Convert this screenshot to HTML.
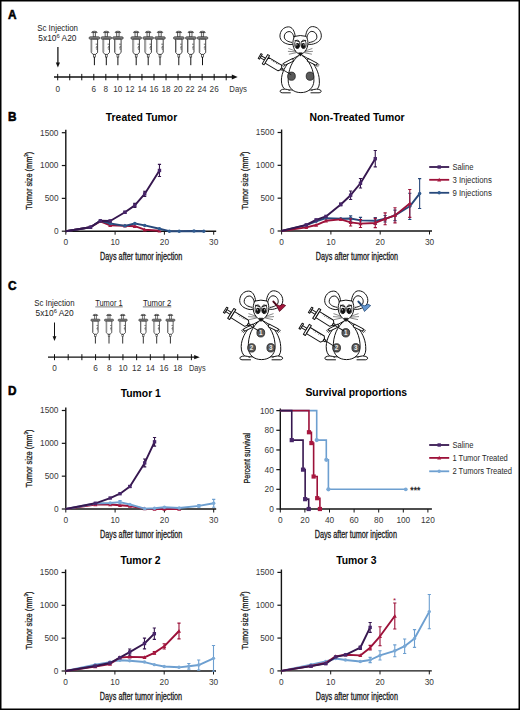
<!DOCTYPE html><html><head><meta charset="utf-8"><style>html,body{margin:0;padding:0;background:#fff;}svg{display:block;}text{font-family:"Liberation Sans", sans-serif;}</style></head><body>
<svg width="520" height="710" viewBox="0 0 520 710">
<rect x="0" y="0" width="520" height="710" fill="#fff"/>
<text x="7.9" y="19.3" font-size="12.5" text-anchor="start" font-weight="bold" fill="#000" textLength="8.5" lengthAdjust="spacingAndGlyphs" stroke="#000" stroke-width="0.55">A</text>
<text x="8" y="121.1" font-size="12.5" text-anchor="start" font-weight="bold" fill="#000" textLength="8.5" lengthAdjust="spacingAndGlyphs" stroke="#000" stroke-width="0.55">B</text>
<text x="7.9" y="290.2" font-size="12.5" text-anchor="start" font-weight="bold" fill="#000" textLength="8.5" lengthAdjust="spacingAndGlyphs" stroke="#000" stroke-width="0.55">C</text>
<text x="7.9" y="395.1" font-size="12.5" text-anchor="start" font-weight="bold" fill="#000" textLength="8.5" lengthAdjust="spacingAndGlyphs" stroke="#000" stroke-width="0.55">D</text>

<text x="57.6" y="31.4" font-size="8.7" text-anchor="middle" font-weight="normal" fill="#1a1a1a" textLength="40.7" lengthAdjust="spacingAndGlyphs">Sc Injection</text>
<text x="57.4" y="41.1" font-size="8.4" text-anchor="middle" fill="#1a1a1a">5x10<tspan font-size="5.8" dy="-3.6">6</tspan><tspan dy="3.6"> A20</tspan></text>
<path d="M57.9 47V65" stroke="#111" stroke-width="1.25"/><path d="M55.8 62.5L57.9 67.5L60 62.5Z" fill="#111"/>
<path d="M54 77H233" stroke="#111" stroke-width="1.3"/><path d="M231.8 74.6L237.7 77L231.8 79.4Z" fill="#111"/>
<path d="M57.7 73.9V80.3" stroke="#111" stroke-width="1"/>
<text x="57.7" y="91.5" font-size="8.2" text-anchor="middle" font-weight="normal" fill="#333">0</text>
<path d="M69.74 73.9V80.3" stroke="#111" stroke-width="1"/>
<path d="M81.77 73.9V80.3" stroke="#111" stroke-width="1"/>
<path d="M93.81 73.9V80.3" stroke="#111" stroke-width="1"/>
<text x="93.81" y="91.5" font-size="8.2" text-anchor="middle" font-weight="normal" fill="#333">6</text>
<path d="M105.84 73.9V80.3" stroke="#111" stroke-width="1"/>
<text x="105.84" y="91.5" font-size="8.2" text-anchor="middle" font-weight="normal" fill="#333">8</text>
<path d="M117.88 73.9V80.3" stroke="#111" stroke-width="1"/>
<text x="117.88" y="91.5" font-size="8.2" text-anchor="middle" font-weight="normal" fill="#333">10</text>
<path d="M129.92 73.9V80.3" stroke="#111" stroke-width="1"/>
<text x="129.92" y="91.5" font-size="8.2" text-anchor="middle" font-weight="normal" fill="#333">12</text>
<path d="M141.95 73.9V80.3" stroke="#111" stroke-width="1"/>
<text x="141.95" y="91.5" font-size="8.2" text-anchor="middle" font-weight="normal" fill="#333">14</text>
<path d="M153.99 73.9V80.3" stroke="#111" stroke-width="1"/>
<text x="153.99" y="91.5" font-size="8.2" text-anchor="middle" font-weight="normal" fill="#333">16</text>
<path d="M166.02 73.9V80.3" stroke="#111" stroke-width="1"/>
<text x="166.02" y="91.5" font-size="8.2" text-anchor="middle" font-weight="normal" fill="#333">18</text>
<path d="M178.06 73.9V80.3" stroke="#111" stroke-width="1"/>
<text x="178.06" y="91.5" font-size="8.2" text-anchor="middle" font-weight="normal" fill="#333">20</text>
<path d="M190.1 73.9V80.3" stroke="#111" stroke-width="1"/>
<text x="190.1" y="91.5" font-size="8.2" text-anchor="middle" font-weight="normal" fill="#333">22</text>
<path d="M202.13 73.9V80.3" stroke="#111" stroke-width="1"/>
<text x="202.13" y="91.5" font-size="8.2" text-anchor="middle" font-weight="normal" fill="#333">24</text>
<path d="M214.17 73.9V80.3" stroke="#111" stroke-width="1"/>
<text x="214.17" y="91.5" font-size="8.2" text-anchor="middle" font-weight="normal" fill="#333">26</text>
<path d="M226.2 73.9V80.3" stroke="#111" stroke-width="1"/>
<text x="229.3" y="91.5" font-size="8.2" text-anchor="start" font-weight="normal" fill="#333" textLength="17.7" lengthAdjust="spacingAndGlyphs">Days</text>
<g transform="translate(94.4 31.2)"><path d="M-2.8 1.4Q-2.8 0 0 0Q2.8 0 2.8 1.4Z" fill="#999" stroke="#333" stroke-width="0.7"/><rect x="-1.2" y="1.4" width="2.4" height="4.3" fill="#e8e8e8" stroke="#333" stroke-width="0.7"/><path d="M-5.2 6.4Q-5.2 5.6 -4.2 5.6H4.2Q5.2 5.6 5.2 6.4V7.2Q5.2 8 4.2 8H-4.2Q-5.2 8 -5.2 7.2Z" fill="#888" stroke="#333" stroke-width="0.7"/><path d="M-3.2 8V21.3L-1.2 23.2H1.2L3.2 21.3V8Z" fill="#fff" stroke="#222" stroke-width="0.85"/><path d="M-2.3 8.5V21" stroke="#aaa" stroke-width="0.7"/><path d="M1.3 13H2.9M1.8 15.2H2.9M1.3 16.6H2.9M1.8 18H2.9" stroke="#333" stroke-width="0.75"/><rect x="-0.9" y="23.2" width="1.8" height="2.6" fill="#fff" stroke="#333" stroke-width="0.7"/><path d="M0 25.8V34" stroke="#111" stroke-width="1"/></g>
<g transform="translate(106.3 31.2)"><path d="M-2.8 1.4Q-2.8 0 0 0Q2.8 0 2.8 1.4Z" fill="#999" stroke="#333" stroke-width="0.7"/><rect x="-1.2" y="1.4" width="2.4" height="4.3" fill="#e8e8e8" stroke="#333" stroke-width="0.7"/><path d="M-5.2 6.4Q-5.2 5.6 -4.2 5.6H4.2Q5.2 5.6 5.2 6.4V7.2Q5.2 8 4.2 8H-4.2Q-5.2 8 -5.2 7.2Z" fill="#888" stroke="#333" stroke-width="0.7"/><path d="M-3.2 8V21.3L-1.2 23.2H1.2L3.2 21.3V8Z" fill="#fff" stroke="#222" stroke-width="0.85"/><path d="M-2.3 8.5V21" stroke="#aaa" stroke-width="0.7"/><path d="M1.3 13H2.9M1.8 15.2H2.9M1.3 16.6H2.9M1.8 18H2.9" stroke="#333" stroke-width="0.75"/><rect x="-0.9" y="23.2" width="1.8" height="2.6" fill="#fff" stroke="#333" stroke-width="0.7"/><path d="M0 25.8V34" stroke="#111" stroke-width="1"/></g>
<g transform="translate(117.9 31.2)"><path d="M-2.8 1.4Q-2.8 0 0 0Q2.8 0 2.8 1.4Z" fill="#999" stroke="#333" stroke-width="0.7"/><rect x="-1.2" y="1.4" width="2.4" height="4.3" fill="#e8e8e8" stroke="#333" stroke-width="0.7"/><path d="M-5.2 6.4Q-5.2 5.6 -4.2 5.6H4.2Q5.2 5.6 5.2 6.4V7.2Q5.2 8 4.2 8H-4.2Q-5.2 8 -5.2 7.2Z" fill="#888" stroke="#333" stroke-width="0.7"/><path d="M-3.2 8V21.3L-1.2 23.2H1.2L3.2 21.3V8Z" fill="#fff" stroke="#222" stroke-width="0.85"/><path d="M-2.3 8.5V21" stroke="#aaa" stroke-width="0.7"/><path d="M1.3 13H2.9M1.8 15.2H2.9M1.3 16.6H2.9M1.8 18H2.9" stroke="#333" stroke-width="0.75"/><rect x="-0.9" y="23.2" width="1.8" height="2.6" fill="#fff" stroke="#333" stroke-width="0.7"/><path d="M0 25.8V34" stroke="#111" stroke-width="1"/></g>
<g transform="translate(136.2 31.2)"><path d="M-2.8 1.4Q-2.8 0 0 0Q2.8 0 2.8 1.4Z" fill="#999" stroke="#333" stroke-width="0.7"/><rect x="-1.2" y="1.4" width="2.4" height="4.3" fill="#e8e8e8" stroke="#333" stroke-width="0.7"/><path d="M-5.2 6.4Q-5.2 5.6 -4.2 5.6H4.2Q5.2 5.6 5.2 6.4V7.2Q5.2 8 4.2 8H-4.2Q-5.2 8 -5.2 7.2Z" fill="#888" stroke="#333" stroke-width="0.7"/><path d="M-3.2 8V21.3L-1.2 23.2H1.2L3.2 21.3V8Z" fill="#fff" stroke="#222" stroke-width="0.85"/><path d="M-2.3 8.5V21" stroke="#aaa" stroke-width="0.7"/><path d="M1.3 13H2.9M1.8 15.2H2.9M1.3 16.6H2.9M1.8 18H2.9" stroke="#333" stroke-width="0.75"/><rect x="-0.9" y="23.2" width="1.8" height="2.6" fill="#fff" stroke="#333" stroke-width="0.7"/><path d="M0 25.8V34" stroke="#111" stroke-width="1"/></g>
<g transform="translate(148.2 31.2)"><path d="M-2.8 1.4Q-2.8 0 0 0Q2.8 0 2.8 1.4Z" fill="#999" stroke="#333" stroke-width="0.7"/><rect x="-1.2" y="1.4" width="2.4" height="4.3" fill="#e8e8e8" stroke="#333" stroke-width="0.7"/><path d="M-5.2 6.4Q-5.2 5.6 -4.2 5.6H4.2Q5.2 5.6 5.2 6.4V7.2Q5.2 8 4.2 8H-4.2Q-5.2 8 -5.2 7.2Z" fill="#888" stroke="#333" stroke-width="0.7"/><path d="M-3.2 8V21.3L-1.2 23.2H1.2L3.2 21.3V8Z" fill="#fff" stroke="#222" stroke-width="0.85"/><path d="M-2.3 8.5V21" stroke="#aaa" stroke-width="0.7"/><path d="M1.3 13H2.9M1.8 15.2H2.9M1.3 16.6H2.9M1.8 18H2.9" stroke="#333" stroke-width="0.75"/><rect x="-0.9" y="23.2" width="1.8" height="2.6" fill="#fff" stroke="#333" stroke-width="0.7"/><path d="M0 25.8V34" stroke="#111" stroke-width="1"/></g>
<g transform="translate(160 31.2)"><path d="M-2.8 1.4Q-2.8 0 0 0Q2.8 0 2.8 1.4Z" fill="#999" stroke="#333" stroke-width="0.7"/><rect x="-1.2" y="1.4" width="2.4" height="4.3" fill="#e8e8e8" stroke="#333" stroke-width="0.7"/><path d="M-5.2 6.4Q-5.2 5.6 -4.2 5.6H4.2Q5.2 5.6 5.2 6.4V7.2Q5.2 8 4.2 8H-4.2Q-5.2 8 -5.2 7.2Z" fill="#888" stroke="#333" stroke-width="0.7"/><path d="M-3.2 8V21.3L-1.2 23.2H1.2L3.2 21.3V8Z" fill="#fff" stroke="#222" stroke-width="0.85"/><path d="M-2.3 8.5V21" stroke="#aaa" stroke-width="0.7"/><path d="M1.3 13H2.9M1.8 15.2H2.9M1.3 16.6H2.9M1.8 18H2.9" stroke="#333" stroke-width="0.75"/><rect x="-0.9" y="23.2" width="1.8" height="2.6" fill="#fff" stroke="#333" stroke-width="0.7"/><path d="M0 25.8V34" stroke="#111" stroke-width="1"/></g>
<g transform="translate(178.8 31.2)"><path d="M-2.8 1.4Q-2.8 0 0 0Q2.8 0 2.8 1.4Z" fill="#999" stroke="#333" stroke-width="0.7"/><rect x="-1.2" y="1.4" width="2.4" height="4.3" fill="#e8e8e8" stroke="#333" stroke-width="0.7"/><path d="M-5.2 6.4Q-5.2 5.6 -4.2 5.6H4.2Q5.2 5.6 5.2 6.4V7.2Q5.2 8 4.2 8H-4.2Q-5.2 8 -5.2 7.2Z" fill="#888" stroke="#333" stroke-width="0.7"/><path d="M-3.2 8V21.3L-1.2 23.2H1.2L3.2 21.3V8Z" fill="#fff" stroke="#222" stroke-width="0.85"/><path d="M-2.3 8.5V21" stroke="#aaa" stroke-width="0.7"/><path d="M1.3 13H2.9M1.8 15.2H2.9M1.3 16.6H2.9M1.8 18H2.9" stroke="#333" stroke-width="0.75"/><rect x="-0.9" y="23.2" width="1.8" height="2.6" fill="#fff" stroke="#333" stroke-width="0.7"/><path d="M0 25.8V34" stroke="#111" stroke-width="1"/></g>
<g transform="translate(190.8 31.2)"><path d="M-2.8 1.4Q-2.8 0 0 0Q2.8 0 2.8 1.4Z" fill="#999" stroke="#333" stroke-width="0.7"/><rect x="-1.2" y="1.4" width="2.4" height="4.3" fill="#e8e8e8" stroke="#333" stroke-width="0.7"/><path d="M-5.2 6.4Q-5.2 5.6 -4.2 5.6H4.2Q5.2 5.6 5.2 6.4V7.2Q5.2 8 4.2 8H-4.2Q-5.2 8 -5.2 7.2Z" fill="#888" stroke="#333" stroke-width="0.7"/><path d="M-3.2 8V21.3L-1.2 23.2H1.2L3.2 21.3V8Z" fill="#fff" stroke="#222" stroke-width="0.85"/><path d="M-2.3 8.5V21" stroke="#aaa" stroke-width="0.7"/><path d="M1.3 13H2.9M1.8 15.2H2.9M1.3 16.6H2.9M1.8 18H2.9" stroke="#333" stroke-width="0.75"/><rect x="-0.9" y="23.2" width="1.8" height="2.6" fill="#fff" stroke="#333" stroke-width="0.7"/><path d="M0 25.8V34" stroke="#111" stroke-width="1"/></g>
<g transform="translate(202.5 31.2)"><path d="M-2.8 1.4Q-2.8 0 0 0Q2.8 0 2.8 1.4Z" fill="#999" stroke="#333" stroke-width="0.7"/><rect x="-1.2" y="1.4" width="2.4" height="4.3" fill="#e8e8e8" stroke="#333" stroke-width="0.7"/><path d="M-5.2 6.4Q-5.2 5.6 -4.2 5.6H4.2Q5.2 5.6 5.2 6.4V7.2Q5.2 8 4.2 8H-4.2Q-5.2 8 -5.2 7.2Z" fill="#888" stroke="#333" stroke-width="0.7"/><path d="M-3.2 8V21.3L-1.2 23.2H1.2L3.2 21.3V8Z" fill="#fff" stroke="#222" stroke-width="0.85"/><path d="M-2.3 8.5V21" stroke="#aaa" stroke-width="0.7"/><path d="M1.3 13H2.9M1.8 15.2H2.9M1.3 16.6H2.9M1.8 18H2.9" stroke="#333" stroke-width="0.75"/><rect x="-0.9" y="23.2" width="1.8" height="2.6" fill="#fff" stroke="#333" stroke-width="0.7"/><path d="M0 25.8V34" stroke="#111" stroke-width="1"/></g>
<text x="54.4" y="306.4" font-size="8.7" text-anchor="middle" font-weight="normal" fill="#1a1a1a" textLength="40.3" lengthAdjust="spacingAndGlyphs">Sc Injection</text>
<text x="54.6" y="316.1" font-size="8.4" text-anchor="middle" fill="#1a1a1a">5x10<tspan font-size="5.8" dy="-3.6">6</tspan><tspan dy="3.6"> A20</tspan></text>
<path d="M54.5 322.5V338.5" stroke="#111" stroke-width="1"/><path d="M52.6 336.3L54.5 341L56.4 336.3Z" fill="#111"/>
<path d="M48 357.2H196" stroke="#111" stroke-width="1.3"/><path d="M194.2 355.1L199.8 357.2L194.2 359.3Z" fill="#111"/>
<path d="M54.5 354.2V360.2" stroke="#111" stroke-width="1"/>
<text x="54.5" y="371.2" font-size="8.2" text-anchor="middle" font-weight="normal" fill="#333">0</text>
<path d="M68.19 354.2V360.2" stroke="#111" stroke-width="1"/>
<path d="M81.88 354.2V360.2" stroke="#111" stroke-width="1"/>
<path d="M95.57 354.2V360.2" stroke="#111" stroke-width="1"/>
<text x="95.57" y="371.2" font-size="8.2" text-anchor="middle" font-weight="normal" fill="#333">6</text>
<path d="M109.26 354.2V360.2" stroke="#111" stroke-width="1"/>
<text x="109.26" y="371.2" font-size="8.2" text-anchor="middle" font-weight="normal" fill="#333">8</text>
<path d="M122.95 354.2V360.2" stroke="#111" stroke-width="1"/>
<text x="122.95" y="371.2" font-size="8.2" text-anchor="middle" font-weight="normal" fill="#333">10</text>
<path d="M136.64 354.2V360.2" stroke="#111" stroke-width="1"/>
<text x="136.64" y="371.2" font-size="8.2" text-anchor="middle" font-weight="normal" fill="#333">12</text>
<path d="M150.33 354.2V360.2" stroke="#111" stroke-width="1"/>
<text x="150.33" y="371.2" font-size="8.2" text-anchor="middle" font-weight="normal" fill="#333">14</text>
<path d="M164.02 354.2V360.2" stroke="#111" stroke-width="1"/>
<text x="164.02" y="371.2" font-size="8.2" text-anchor="middle" font-weight="normal" fill="#333">16</text>
<path d="M177.71 354.2V360.2" stroke="#111" stroke-width="1"/>
<text x="177.71" y="371.2" font-size="8.2" text-anchor="middle" font-weight="normal" fill="#333">18</text>
<path d="M191.4 354.2V360.2" stroke="#111" stroke-width="1"/>
<text x="188.9" y="371" font-size="8.2" text-anchor="start" font-weight="normal" fill="#333" textLength="16.8" lengthAdjust="spacingAndGlyphs">Days</text>
<text x="108.9" y="305.9" font-size="8.2" text-anchor="middle" font-weight="normal" fill="#222" textLength="27.4" lengthAdjust="spacingAndGlyphs">Tumor 1</text>
<text x="157.1" y="305.9" font-size="8.2" text-anchor="middle" font-weight="normal" fill="#222" textLength="28.4" lengthAdjust="spacingAndGlyphs">Tumor 2</text>
<path d="M95.3 306.9H122.8M142.8 306.9H171.3" stroke="#444" stroke-width="0.7"/>
<g transform="translate(95.4 314.3) scale(0.86)"><path d="M-2.8 1.4Q-2.8 0 0 0Q2.8 0 2.8 1.4Z" fill="#999" stroke="#333" stroke-width="0.7"/><rect x="-1.2" y="1.4" width="2.4" height="4.3" fill="#e8e8e8" stroke="#333" stroke-width="0.7"/><path d="M-5.2 6.4Q-5.2 5.6 -4.2 5.6H4.2Q5.2 5.6 5.2 6.4V7.2Q5.2 8 4.2 8H-4.2Q-5.2 8 -5.2 7.2Z" fill="#888" stroke="#333" stroke-width="0.7"/><path d="M-3.2 8V21.3L-1.2 23.2H1.2L3.2 21.3V8Z" fill="#fff" stroke="#222" stroke-width="0.85"/><path d="M-2.3 8.5V21" stroke="#aaa" stroke-width="0.7"/><path d="M1.3 13H2.9M1.8 15.2H2.9M1.3 16.6H2.9M1.8 18H2.9" stroke="#333" stroke-width="0.75"/><rect x="-0.9" y="23.2" width="1.8" height="2.6" fill="#fff" stroke="#333" stroke-width="0.7"/><path d="M0 25.8V34" stroke="#111" stroke-width="1"/></g>
<g transform="translate(109 314.3) scale(0.86)"><path d="M-2.8 1.4Q-2.8 0 0 0Q2.8 0 2.8 1.4Z" fill="#999" stroke="#333" stroke-width="0.7"/><rect x="-1.2" y="1.4" width="2.4" height="4.3" fill="#e8e8e8" stroke="#333" stroke-width="0.7"/><path d="M-5.2 6.4Q-5.2 5.6 -4.2 5.6H4.2Q5.2 5.6 5.2 6.4V7.2Q5.2 8 4.2 8H-4.2Q-5.2 8 -5.2 7.2Z" fill="#888" stroke="#333" stroke-width="0.7"/><path d="M-3.2 8V21.3L-1.2 23.2H1.2L3.2 21.3V8Z" fill="#fff" stroke="#222" stroke-width="0.85"/><path d="M-2.3 8.5V21" stroke="#aaa" stroke-width="0.7"/><path d="M1.3 13H2.9M1.8 15.2H2.9M1.3 16.6H2.9M1.8 18H2.9" stroke="#333" stroke-width="0.75"/><rect x="-0.9" y="23.2" width="1.8" height="2.6" fill="#fff" stroke="#333" stroke-width="0.7"/><path d="M0 25.8V34" stroke="#111" stroke-width="1"/></g>
<g transform="translate(122.7 314.3) scale(0.86)"><path d="M-2.8 1.4Q-2.8 0 0 0Q2.8 0 2.8 1.4Z" fill="#999" stroke="#333" stroke-width="0.7"/><rect x="-1.2" y="1.4" width="2.4" height="4.3" fill="#e8e8e8" stroke="#333" stroke-width="0.7"/><path d="M-5.2 6.4Q-5.2 5.6 -4.2 5.6H4.2Q5.2 5.6 5.2 6.4V7.2Q5.2 8 4.2 8H-4.2Q-5.2 8 -5.2 7.2Z" fill="#888" stroke="#333" stroke-width="0.7"/><path d="M-3.2 8V21.3L-1.2 23.2H1.2L3.2 21.3V8Z" fill="#fff" stroke="#222" stroke-width="0.85"/><path d="M-2.3 8.5V21" stroke="#aaa" stroke-width="0.7"/><path d="M1.3 13H2.9M1.8 15.2H2.9M1.3 16.6H2.9M1.8 18H2.9" stroke="#333" stroke-width="0.75"/><rect x="-0.9" y="23.2" width="1.8" height="2.6" fill="#fff" stroke="#333" stroke-width="0.7"/><path d="M0 25.8V34" stroke="#111" stroke-width="1"/></g>
<g transform="translate(143.3 314.3) scale(0.86)"><path d="M-2.8 1.4Q-2.8 0 0 0Q2.8 0 2.8 1.4Z" fill="#999" stroke="#333" stroke-width="0.7"/><rect x="-1.2" y="1.4" width="2.4" height="4.3" fill="#e8e8e8" stroke="#333" stroke-width="0.7"/><path d="M-5.2 6.4Q-5.2 5.6 -4.2 5.6H4.2Q5.2 5.6 5.2 6.4V7.2Q5.2 8 4.2 8H-4.2Q-5.2 8 -5.2 7.2Z" fill="#888" stroke="#333" stroke-width="0.7"/><path d="M-3.2 8V21.3L-1.2 23.2H1.2L3.2 21.3V8Z" fill="#fff" stroke="#222" stroke-width="0.85"/><path d="M-2.3 8.5V21" stroke="#aaa" stroke-width="0.7"/><path d="M1.3 13H2.9M1.8 15.2H2.9M1.3 16.6H2.9M1.8 18H2.9" stroke="#333" stroke-width="0.75"/><rect x="-0.9" y="23.2" width="1.8" height="2.6" fill="#fff" stroke="#333" stroke-width="0.7"/><path d="M0 25.8V34" stroke="#111" stroke-width="1"/></g>
<g transform="translate(156.7 314.3) scale(0.86)"><path d="M-2.8 1.4Q-2.8 0 0 0Q2.8 0 2.8 1.4Z" fill="#999" stroke="#333" stroke-width="0.7"/><rect x="-1.2" y="1.4" width="2.4" height="4.3" fill="#e8e8e8" stroke="#333" stroke-width="0.7"/><path d="M-5.2 6.4Q-5.2 5.6 -4.2 5.6H4.2Q5.2 5.6 5.2 6.4V7.2Q5.2 8 4.2 8H-4.2Q-5.2 8 -5.2 7.2Z" fill="#888" stroke="#333" stroke-width="0.7"/><path d="M-3.2 8V21.3L-1.2 23.2H1.2L3.2 21.3V8Z" fill="#fff" stroke="#222" stroke-width="0.85"/><path d="M-2.3 8.5V21" stroke="#aaa" stroke-width="0.7"/><path d="M1.3 13H2.9M1.8 15.2H2.9M1.3 16.6H2.9M1.8 18H2.9" stroke="#333" stroke-width="0.75"/><rect x="-0.9" y="23.2" width="1.8" height="2.6" fill="#fff" stroke="#333" stroke-width="0.7"/><path d="M0 25.8V34" stroke="#111" stroke-width="1"/></g>
<g transform="translate(170.4 314.3) scale(0.86)"><path d="M-2.8 1.4Q-2.8 0 0 0Q2.8 0 2.8 1.4Z" fill="#999" stroke="#333" stroke-width="0.7"/><rect x="-1.2" y="1.4" width="2.4" height="4.3" fill="#e8e8e8" stroke="#333" stroke-width="0.7"/><path d="M-5.2 6.4Q-5.2 5.6 -4.2 5.6H4.2Q5.2 5.6 5.2 6.4V7.2Q5.2 8 4.2 8H-4.2Q-5.2 8 -5.2 7.2Z" fill="#888" stroke="#333" stroke-width="0.7"/><path d="M-3.2 8V21.3L-1.2 23.2H1.2L3.2 21.3V8Z" fill="#fff" stroke="#222" stroke-width="0.85"/><path d="M-2.3 8.5V21" stroke="#aaa" stroke-width="0.7"/><path d="M1.3 13H2.9M1.8 15.2H2.9M1.3 16.6H2.9M1.8 18H2.9" stroke="#333" stroke-width="0.75"/><rect x="-0.9" y="23.2" width="1.8" height="2.6" fill="#fff" stroke="#333" stroke-width="0.7"/><path d="M0 25.8V34" stroke="#111" stroke-width="1"/></g>
<g transform="translate(49.84 -252.6) scale(0.96)"><path d="M255.6 301.5C255.2 295 252.2 291.1 248.6 291.1C243.5 291.1 239.7 295.5 239.7 300.6C239.7 305.2 243.6 308.6 250.2 309.6L255 309Z" fill="#fff" stroke="#111" stroke-width="1" stroke-linejoin="round" stroke-linecap="round"/><path d="M254.4 303.2C253.9 298.6 251.8 296 249.2 296C246.2 296 244 298.6 244.2 301.6C244.4 304.6 247.5 306.6 252 307.3" fill="none" stroke="#111" stroke-width="1" stroke-linejoin="round" stroke-linecap="round"/><path d="M266.4 301.5C266.8 295 269.8 290.8 273.6 290.8C278.8 290.8 282.8 295.3 282.8 300.5C282.8 305 279 308.3 272.3 309.4L267 309Z" fill="#fff" stroke="#111" stroke-width="1" stroke-linejoin="round" stroke-linecap="round"/><path d="M267.6 303.2C268.1 298.6 270.4 295.8 273 295.8C276 295.8 278.4 298.6 278.2 301.8C278 304.8 274.8 306.8 270.2 307.4" fill="none" stroke="#111" stroke-width="1" stroke-linejoin="round" stroke-linecap="round"/><path d="M261 320L251.2 325.4C245.6 331 241.3 339 241.2 346.5C241.1 351.5 242.8 354.8 245.5 356.8L277.5 356.8C280.2 354.8 281.2 351.5 280.7 346.5C280.4 339 276.6 331 270.8 325.4Z" fill="#fff" stroke="#111" stroke-width="1" stroke-linejoin="round" stroke-linecap="round"/><path d="M259.6 320.8C252.2 326 248 336 248.3 347.5C248.6 355 253.8 359.6 261.5 359.6C269.2 359.6 274.6 355 275.1 347.5C275.4 336 270.4 326 262.6 320.8" fill="#fff" stroke="#111" stroke-width="1" stroke-linejoin="round" stroke-linecap="round"/><path d="M249.5 357.2C247 355.6 242.5 355.4 240.2 357.3C239.3 358.2 240 359.6 242 359.8L250.5 359.8" fill="#fff" stroke="#111" stroke-width="1" stroke-linejoin="round" stroke-linecap="round"/><path d="M272.8 357.2C275.4 355.6 280 355.4 282.3 357.3C283.2 358.2 282.5 359.6 280.5 359.8L272 359.8" fill="#fff" stroke="#111" stroke-width="1" stroke-linejoin="round" stroke-linecap="round"/><path d="M252.6 324.2L243.4 329L244.6 331.2L253.4 327Z" fill="#fff" stroke="#111" stroke-width="1" stroke-linejoin="round" stroke-linecap="round"/><path d="M243.6 329.2L241.2 330.6M244 330.2L241.8 332M244.8 331L243.2 333" fill="none" stroke="#111" stroke-width="0.7"/><path d="M269.4 324.2L278.6 329L277.4 331.2L268.6 327Z" fill="#fff" stroke="#111" stroke-width="1" stroke-linejoin="round" stroke-linecap="round"/><path d="M278.4 329.2L280.8 330.6M278 330.2L280.2 332M277.2 331L278.8 333" fill="none" stroke="#111" stroke-width="0.7"/><path d="M255 301Q261 299.2 267 301C269.2 304.5 269.6 310 267.2 314.6C265.6 317.6 263.2 319.6 261 319.9C258.8 319.6 256.4 317.6 254.8 314.6C252.4 310 252.8 304.5 255 301Z" fill="#fff" stroke="#111" stroke-width="1" stroke-linejoin="round" stroke-linecap="round"/><ellipse cx="257.7" cy="309.3" rx="2.6" ry="4.3" fill="#fff" stroke="#111" stroke-width="0.9"/><ellipse cx="257.95" cy="310.7" rx="2.1" ry="2.9" fill="#111"/><circle cx="257.3" cy="309.8" r="0.65" fill="#fff"/><path d="M255.39999999999998 305.2L259.4 306.5" stroke="#111" stroke-width="1.05" stroke-linecap="round"/><ellipse cx="264.3" cy="309.3" rx="2.6" ry="4.3" fill="#fff" stroke="#111" stroke-width="0.9"/><ellipse cx="264.05" cy="310.7" rx="2.1" ry="2.9" fill="#111"/><circle cx="264.7" cy="309.8" r="0.65" fill="#fff"/><path d="M266.6 305.2L262.6 306.5" stroke="#111" stroke-width="1.05" stroke-linecap="round"/><path d="M259 318.2H263L261 321.6Z" fill="#111" stroke="#111" stroke-width="0.6" stroke-linejoin="round"/><path d="M256.5 316.4L248.5 313.6M256.5 317.2L248 316.6M256.8 318L249 319.6M265.5 316.4L273.5 313.6M265.5 317.2L274 316.6M265.2 318L273 319.6" stroke="#222" stroke-width="0.55" fill="none"/></g>
<ellipse cx="291.5" cy="76.2" rx="3.8" ry="4.104" fill="#5a5a5a" stroke="#222" stroke-width="0.8"/>
<ellipse cx="310" cy="76.2" rx="3.8" ry="4.104" fill="#5a5a5a" stroke="#222" stroke-width="0.8"/>
<g transform="translate(259.6 56) rotate(30.6) scale(0.92)"><rect x="0" y="-3.1" width="1.6" height="6.2" fill="#fff" stroke="#111" stroke-width="1" stroke-linejoin="round" stroke-linecap="round"/><rect x="1.6" y="-1.2" width="5.2" height="2.4" fill="#fff" stroke="#111" stroke-width="1" stroke-linejoin="round" stroke-linecap="round"/><rect x="6.8" y="-5.8" width="2.3" height="11.6" fill="#fff" stroke="#111" stroke-width="1" stroke-linejoin="round" stroke-linecap="round"/><path d="M9.1 -3.6H25.5L27.2 -1.3V1.3L25.5 3.6H9.1Z" fill="#fff" stroke="#111" stroke-width="1" stroke-linejoin="round" stroke-linecap="round"/><path d="M14 -3.6V-2.3M16 -3.6V-1.8M18 -3.6V-2.3M20 -3.6V-1.8M22 -3.6V-2.3" stroke="#1a1a1a" stroke-width="0.6"/><rect x="27" y="-0.9" width="2.2" height="1.8" fill="#fff" stroke="#111" stroke-width="1" stroke-linejoin="round" stroke-linecap="round"/><path d="M29.2 0H40" stroke="#1a1a1a" stroke-width="0.9"/></g>
<g><path d="M255.6 301.5C255.2 295 252.2 291.1 248.6 291.1C243.5 291.1 239.7 295.5 239.7 300.6C239.7 305.2 243.6 308.6 250.2 309.6L255 309Z" fill="#fff" stroke="#111" stroke-width="1" stroke-linejoin="round" stroke-linecap="round"/><path d="M254.4 303.2C253.9 298.6 251.8 296 249.2 296C246.2 296 244 298.6 244.2 301.6C244.4 304.6 247.5 306.6 252 307.3" fill="none" stroke="#111" stroke-width="1" stroke-linejoin="round" stroke-linecap="round"/><path d="M266.4 301.5C266.8 295 269.8 290.8 273.6 290.8C278.8 290.8 282.8 295.3 282.8 300.5C282.8 305 279 308.3 272.3 309.4L267 309Z" fill="#fff" stroke="#111" stroke-width="1" stroke-linejoin="round" stroke-linecap="round"/><path d="M267.6 303.2C268.1 298.6 270.4 295.8 273 295.8C276 295.8 278.4 298.6 278.2 301.8C278 304.8 274.8 306.8 270.2 307.4" fill="none" stroke="#111" stroke-width="1" stroke-linejoin="round" stroke-linecap="round"/><path d="M261 320L251.2 325.4C245.6 331 241.3 339 241.2 346.5C241.1 351.5 242.8 354.8 245.5 356.8L277.5 356.8C280.2 354.8 281.2 351.5 280.7 346.5C280.4 339 276.6 331 270.8 325.4Z" fill="#fff" stroke="#111" stroke-width="1" stroke-linejoin="round" stroke-linecap="round"/><path d="M259.6 320.8C252.2 326 248 336 248.3 347.5C248.6 355 253.8 359.6 261.5 359.6C269.2 359.6 274.6 355 275.1 347.5C275.4 336 270.4 326 262.6 320.8" fill="#fff" stroke="#111" stroke-width="1" stroke-linejoin="round" stroke-linecap="round"/><path d="M249.5 357.2C247 355.6 242.5 355.4 240.2 357.3C239.3 358.2 240 359.6 242 359.8L250.5 359.8" fill="#fff" stroke="#111" stroke-width="1" stroke-linejoin="round" stroke-linecap="round"/><path d="M272.8 357.2C275.4 355.6 280 355.4 282.3 357.3C283.2 358.2 282.5 359.6 280.5 359.8L272 359.8" fill="#fff" stroke="#111" stroke-width="1" stroke-linejoin="round" stroke-linecap="round"/><path d="M252.6 324.2L243.4 329L244.6 331.2L253.4 327Z" fill="#fff" stroke="#111" stroke-width="1" stroke-linejoin="round" stroke-linecap="round"/><path d="M243.6 329.2L241.2 330.6M244 330.2L241.8 332M244.8 331L243.2 333" fill="none" stroke="#111" stroke-width="0.7"/><path d="M269.4 324.2L278.6 329L277.4 331.2L268.6 327Z" fill="#fff" stroke="#111" stroke-width="1" stroke-linejoin="round" stroke-linecap="round"/><path d="M278.4 329.2L280.8 330.6M278 330.2L280.2 332M277.2 331L278.8 333" fill="none" stroke="#111" stroke-width="0.7"/><path d="M255 301Q261 299.2 267 301C269.2 304.5 269.6 310 267.2 314.6C265.6 317.6 263.2 319.6 261 319.9C258.8 319.6 256.4 317.6 254.8 314.6C252.4 310 252.8 304.5 255 301Z" fill="#fff" stroke="#111" stroke-width="1" stroke-linejoin="round" stroke-linecap="round"/><ellipse cx="257.7" cy="309.3" rx="2.6" ry="4.3" fill="#fff" stroke="#111" stroke-width="0.9"/><ellipse cx="257.95" cy="310.7" rx="2.1" ry="2.9" fill="#111"/><circle cx="257.3" cy="309.8" r="0.65" fill="#fff"/><path d="M255.39999999999998 305.2L259.4 306.5" stroke="#111" stroke-width="1.05" stroke-linecap="round"/><ellipse cx="264.3" cy="309.3" rx="2.6" ry="4.3" fill="#fff" stroke="#111" stroke-width="0.9"/><ellipse cx="264.05" cy="310.7" rx="2.1" ry="2.9" fill="#111"/><circle cx="264.7" cy="309.8" r="0.65" fill="#fff"/><path d="M266.6 305.2L262.6 306.5" stroke="#111" stroke-width="1.05" stroke-linecap="round"/><path d="M259 318.2H263L261 321.6Z" fill="#111" stroke="#111" stroke-width="0.6" stroke-linejoin="round"/><path d="M256.5 316.4L248.5 313.6M256.5 317.2L248 316.6M256.8 318L249 319.6M265.5 316.4L273.5 313.6M265.5 317.2L274 316.6M265.2 318L273 319.6" stroke="#222" stroke-width="0.55" fill="none"/></g>
<g transform="translate(85 0)"><path d="M255.6 301.5C255.2 295 252.2 291.1 248.6 291.1C243.5 291.1 239.7 295.5 239.7 300.6C239.7 305.2 243.6 308.6 250.2 309.6L255 309Z" fill="#fff" stroke="#111" stroke-width="1" stroke-linejoin="round" stroke-linecap="round"/><path d="M254.4 303.2C253.9 298.6 251.8 296 249.2 296C246.2 296 244 298.6 244.2 301.6C244.4 304.6 247.5 306.6 252 307.3" fill="none" stroke="#111" stroke-width="1" stroke-linejoin="round" stroke-linecap="round"/><path d="M266.4 301.5C266.8 295 269.8 290.8 273.6 290.8C278.8 290.8 282.8 295.3 282.8 300.5C282.8 305 279 308.3 272.3 309.4L267 309Z" fill="#fff" stroke="#111" stroke-width="1" stroke-linejoin="round" stroke-linecap="round"/><path d="M267.6 303.2C268.1 298.6 270.4 295.8 273 295.8C276 295.8 278.4 298.6 278.2 301.8C278 304.8 274.8 306.8 270.2 307.4" fill="none" stroke="#111" stroke-width="1" stroke-linejoin="round" stroke-linecap="round"/><path d="M261 320L251.2 325.4C245.6 331 241.3 339 241.2 346.5C241.1 351.5 242.8 354.8 245.5 356.8L277.5 356.8C280.2 354.8 281.2 351.5 280.7 346.5C280.4 339 276.6 331 270.8 325.4Z" fill="#fff" stroke="#111" stroke-width="1" stroke-linejoin="round" stroke-linecap="round"/><path d="M259.6 320.8C252.2 326 248 336 248.3 347.5C248.6 355 253.8 359.6 261.5 359.6C269.2 359.6 274.6 355 275.1 347.5C275.4 336 270.4 326 262.6 320.8" fill="#fff" stroke="#111" stroke-width="1" stroke-linejoin="round" stroke-linecap="round"/><path d="M249.5 357.2C247 355.6 242.5 355.4 240.2 357.3C239.3 358.2 240 359.6 242 359.8L250.5 359.8" fill="#fff" stroke="#111" stroke-width="1" stroke-linejoin="round" stroke-linecap="round"/><path d="M272.8 357.2C275.4 355.6 280 355.4 282.3 357.3C283.2 358.2 282.5 359.6 280.5 359.8L272 359.8" fill="#fff" stroke="#111" stroke-width="1" stroke-linejoin="round" stroke-linecap="round"/><path d="M252.6 324.2L243.4 329L244.6 331.2L253.4 327Z" fill="#fff" stroke="#111" stroke-width="1" stroke-linejoin="round" stroke-linecap="round"/><path d="M243.6 329.2L241.2 330.6M244 330.2L241.8 332M244.8 331L243.2 333" fill="none" stroke="#111" stroke-width="0.7"/><path d="M269.4 324.2L278.6 329L277.4 331.2L268.6 327Z" fill="#fff" stroke="#111" stroke-width="1" stroke-linejoin="round" stroke-linecap="round"/><path d="M278.4 329.2L280.8 330.6M278 330.2L280.2 332M277.2 331L278.8 333" fill="none" stroke="#111" stroke-width="0.7"/><path d="M255 301Q261 299.2 267 301C269.2 304.5 269.6 310 267.2 314.6C265.6 317.6 263.2 319.6 261 319.9C258.8 319.6 256.4 317.6 254.8 314.6C252.4 310 252.8 304.5 255 301Z" fill="#fff" stroke="#111" stroke-width="1" stroke-linejoin="round" stroke-linecap="round"/><ellipse cx="257.7" cy="309.3" rx="2.6" ry="4.3" fill="#fff" stroke="#111" stroke-width="0.9"/><ellipse cx="257.95" cy="310.7" rx="2.1" ry="2.9" fill="#111"/><circle cx="257.3" cy="309.8" r="0.65" fill="#fff"/><path d="M255.39999999999998 305.2L259.4 306.5" stroke="#111" stroke-width="1.05" stroke-linecap="round"/><ellipse cx="264.3" cy="309.3" rx="2.6" ry="4.3" fill="#fff" stroke="#111" stroke-width="0.9"/><ellipse cx="264.05" cy="310.7" rx="2.1" ry="2.9" fill="#111"/><circle cx="264.7" cy="309.8" r="0.65" fill="#fff"/><path d="M266.6 305.2L262.6 306.5" stroke="#111" stroke-width="1.05" stroke-linecap="round"/><path d="M259 318.2H263L261 321.6Z" fill="#111" stroke="#111" stroke-width="0.6" stroke-linejoin="round"/><path d="M256.5 316.4L248.5 313.6M256.5 317.2L248 316.6M256.8 318L249 319.6M265.5 316.4L273.5 313.6M265.5 317.2L274 316.6M265.2 318L273 319.6" stroke="#222" stroke-width="0.55" fill="none"/></g>
<ellipse cx="260.8" cy="332.8" rx="3.9" ry="4.212" fill="#5a5a5a" stroke="#222" stroke-width="0.8"/><text x="260.8" y="335.0" font-size="6.3" text-anchor="middle" fill="#eee" font-weight="bold">1</text>
<ellipse cx="251.6" cy="347.9" rx="3.9" ry="4.212" fill="#5a5a5a" stroke="#222" stroke-width="0.8"/><text x="251.6" y="350.09999999999997" font-size="6.3" text-anchor="middle" fill="#eee" font-weight="bold">2</text>
<ellipse cx="270.8" cy="347.8" rx="3.9" ry="4.212" fill="#5a5a5a" stroke="#222" stroke-width="0.8"/><text x="270.8" y="350.0" font-size="6.3" text-anchor="middle" fill="#eee" font-weight="bold">3</text>
<ellipse cx="345.8" cy="332.8" rx="3.9" ry="4.212" fill="#5a5a5a" stroke="#222" stroke-width="0.8"/><text x="345.8" y="335.0" font-size="6.3" text-anchor="middle" fill="#eee" font-weight="bold">1</text>
<ellipse cx="336.6" cy="347.9" rx="3.9" ry="4.212" fill="#5a5a5a" stroke="#222" stroke-width="0.8"/><text x="336.6" y="350.09999999999997" font-size="6.3" text-anchor="middle" fill="#eee" font-weight="bold">2</text>
<ellipse cx="355.8" cy="347.8" rx="3.9" ry="4.212" fill="#5a5a5a" stroke="#222" stroke-width="0.8"/><text x="355.8" y="350.0" font-size="6.3" text-anchor="middle" fill="#eee" font-weight="bold">3</text>
<g transform="translate(225 309.8) rotate(32)"><rect x="0" y="-3.1" width="1.6" height="6.2" fill="#fff" stroke="#111" stroke-width="1" stroke-linejoin="round" stroke-linecap="round"/><rect x="1.6" y="-1.2" width="5.2" height="2.4" fill="#fff" stroke="#111" stroke-width="1" stroke-linejoin="round" stroke-linecap="round"/><rect x="6.8" y="-5.8" width="2.3" height="11.6" fill="#fff" stroke="#111" stroke-width="1" stroke-linejoin="round" stroke-linecap="round"/><path d="M9.1 -3.6H25.5L27.2 -1.3V1.3L25.5 3.6H9.1Z" fill="#fff" stroke="#111" stroke-width="1" stroke-linejoin="round" stroke-linecap="round"/><path d="M14 -3.6V-2.3M16 -3.6V-1.8M18 -3.6V-2.3M20 -3.6V-1.8M22 -3.6V-2.3" stroke="#1a1a1a" stroke-width="0.6"/><rect x="27" y="-0.9" width="2.2" height="1.8" fill="#fff" stroke="#111" stroke-width="1" stroke-linejoin="round" stroke-linecap="round"/><path d="M29.2 0H40" stroke="#1a1a1a" stroke-width="0.9"/></g>
<g transform="translate(310 309.8) rotate(32)"><rect x="0" y="-3.1" width="1.6" height="6.2" fill="#fff" stroke="#111" stroke-width="1" stroke-linejoin="round" stroke-linecap="round"/><rect x="1.6" y="-1.2" width="5.2" height="2.4" fill="#fff" stroke="#111" stroke-width="1" stroke-linejoin="round" stroke-linecap="round"/><rect x="6.8" y="-5.8" width="2.3" height="11.6" fill="#fff" stroke="#111" stroke-width="1" stroke-linejoin="round" stroke-linecap="round"/><path d="M9.1 -3.6H25.5L27.2 -1.3V1.3L25.5 3.6H9.1Z" fill="#fff" stroke="#111" stroke-width="1" stroke-linejoin="round" stroke-linecap="round"/><path d="M14 -3.6V-2.3M16 -3.6V-1.8M18 -3.6V-2.3M20 -3.6V-1.8M22 -3.6V-2.3" stroke="#1a1a1a" stroke-width="0.6"/><rect x="27" y="-0.9" width="2.2" height="1.8" fill="#fff" stroke="#111" stroke-width="1" stroke-linejoin="round" stroke-linecap="round"/><path d="M29.2 0H40" stroke="#1a1a1a" stroke-width="0.9"/></g>
<g transform="translate(300.6 325.8) rotate(31.3)"><rect x="0" y="-3.1" width="1.6" height="6.2" fill="#fff" stroke="#111" stroke-width="1" stroke-linejoin="round" stroke-linecap="round"/><rect x="1.6" y="-1.2" width="5.2" height="2.4" fill="#fff" stroke="#111" stroke-width="1" stroke-linejoin="round" stroke-linecap="round"/><rect x="6.8" y="-5.8" width="2.3" height="11.6" fill="#fff" stroke="#111" stroke-width="1" stroke-linejoin="round" stroke-linecap="round"/><path d="M9.1 -3.6H25.5L27.2 -1.3V1.3L25.5 3.6H9.1Z" fill="#fff" stroke="#111" stroke-width="1" stroke-linejoin="round" stroke-linecap="round"/><path d="M14 -3.6V-2.3M16 -3.6V-1.8M18 -3.6V-2.3M20 -3.6V-1.8M22 -3.6V-2.3" stroke="#1a1a1a" stroke-width="0.6"/><rect x="27" y="-0.9" width="2.2" height="1.8" fill="#fff" stroke="#111" stroke-width="1" stroke-linejoin="round" stroke-linecap="round"/><path d="M29.2 0H40" stroke="#1a1a1a" stroke-width="0.9"/></g>
<g transform="translate(0 0)"><path d="M273.4 301.6L276.6 305.2" stroke="#4a0818" stroke-width="2" stroke-linecap="round"/><path d="M275.8 304.4L279.8 305.8L282.8 304.1L285.7 305.6L279.5 311.5Z" fill="#a3163c" stroke="#4a0818" stroke-width="0.7" stroke-linejoin="round"/></g>
<g transform="translate(85 0)"><path d="M273.4 301.6L276.6 305.2" stroke="#1f4470" stroke-width="2" stroke-linecap="round"/><path d="M275.8 304.4L279.8 305.8L282.8 304.1L285.7 305.6L279.5 311.5Z" fill="#6396cf" stroke="#1f4470" stroke-width="0.7" stroke-linejoin="round"/></g>
<text x="141.5" y="120.6" font-size="10.4" text-anchor="middle" font-weight="bold" fill="#000">Treated Tumor</text>
<text x="357" y="121" font-size="10.4" text-anchor="middle" font-weight="bold" fill="#000">Non-Treated Tumor</text>
<path d="M65.8 129.7V231.2H216.2" stroke="#151515" stroke-width="1.4" fill="none"/>
<path d="M61.8 231.2H65.8" stroke="#151515" stroke-width="1.2"/>
<text x="58.5" y="234.1" font-size="8.3" text-anchor="end" font-weight="normal" fill="#383838">0</text>
<path d="M61.8 198.37H65.8" stroke="#151515" stroke-width="1.2"/>
<text x="58.5" y="201.27" font-size="8.3" text-anchor="end" font-weight="normal" fill="#383838">500</text>
<path d="M61.8 165.53H65.8" stroke="#151515" stroke-width="1.2"/>
<text x="58.5" y="168.43" font-size="8.3" text-anchor="end" font-weight="normal" fill="#383838">1000</text>
<path d="M61.8 132.7H65.8" stroke="#151515" stroke-width="1.2"/>
<text x="58.5" y="135.6" font-size="8.3" text-anchor="end" font-weight="normal" fill="#383838">1500</text>
<path d="M65.8 231.2V234.7" stroke="#151515" stroke-width="1"/>
<text x="65.8" y="244.9" font-size="8.3" text-anchor="middle" font-weight="normal" fill="#383838">0</text>
<path d="M115.1 231.2V234.7" stroke="#151515" stroke-width="1"/>
<text x="115.1" y="244.9" font-size="8.3" text-anchor="middle" font-weight="normal" fill="#383838">10</text>
<path d="M164.4 231.2V234.7" stroke="#151515" stroke-width="1"/>
<text x="164.4" y="244.9" font-size="8.3" text-anchor="middle" font-weight="normal" fill="#383838">20</text>
<path d="M213.7 231.2V234.7" stroke="#151515" stroke-width="1"/>
<text x="213.7" y="244.9" font-size="8.3" text-anchor="middle" font-weight="normal" fill="#383838">30</text>
<text x="141.2" y="259.8" font-size="10" text-anchor="middle" font-weight="normal" fill="#1a1a1a" textLength="82.3" lengthAdjust="spacingAndGlyphs" stroke="#1a1a1a" stroke-width="0.3">Days after tumor injection</text>
<text transform="translate(31.9 180.7) rotate(-90)" font-size="9.8" text-anchor="middle" fill="#1a1a1a" stroke="#1a1a1a" stroke-width="0.3" textLength="58" lengthAdjust="spacingAndGlyphs">Tumor size (mm<tspan font-size="6" dy="-3.6">3</tspan><tspan dy="3.6">)</tspan></text>
<polyline points="65.8,231.2 90.45,227.19 100.31,221.35 110.17,225.42 124.96,225.82 134.82,226.21 144.68,229.69 159.47,230.81" fill="none" stroke="#9c1139" stroke-width="1.9" stroke-linejoin="round"/>
<polygon points="90.45,225.09 88.45,228.89 92.45,228.89" fill="#a8173f"/>
<polygon points="100.31,219.25 98.31,223.05 102.31,223.05" fill="#a8173f"/>
<polygon points="110.17,223.32 108.17,227.12 112.17,227.12" fill="#a8173f"/>
<polygon points="124.96,223.72 122.96,227.52 126.96,227.52" fill="#a8173f"/>
<polygon points="134.82,224.11 132.82,227.91 136.82,227.91" fill="#a8173f"/>
<polygon points="144.68,227.59 142.68,231.39 146.68,231.39" fill="#a8173f"/>
<polygon points="159.47,228.71 157.47,232.51 161.47,232.51" fill="#a8173f"/>
<polyline points="65.8,231.2 90.45,227.19 100.31,220.82 110.17,223.52 124.96,225.82 134.82,223.52 144.68,225.42 159.47,228.77 169.33,231.2 179.19,231.2 193.98,231 203.84,231.2" fill="none" stroke="#27487a" stroke-width="1.9" stroke-linejoin="round"/>
<circle cx="90.45" cy="227.19" r="1.7" fill="#2f5a8e"/>
<circle cx="100.31" cy="220.82" r="1.7" fill="#2f5a8e"/>
<circle cx="110.17" cy="223.52" r="1.7" fill="#2f5a8e"/>
<circle cx="124.96" cy="225.82" r="1.7" fill="#2f5a8e"/>
<circle cx="134.82" cy="223.52" r="1.7" fill="#2f5a8e"/>
<circle cx="144.68" cy="225.42" r="1.7" fill="#2f5a8e"/>
<circle cx="159.47" cy="228.77" r="1.7" fill="#2f5a8e"/>
<circle cx="169.33" cy="231.2" r="1.7" fill="#2f5a8e"/>
<circle cx="179.19" cy="231.2" r="1.7" fill="#2f5a8e"/>
<circle cx="193.98" cy="231" r="1.7" fill="#2f5a8e"/>
<circle cx="203.84" cy="231.2" r="1.7" fill="#2f5a8e"/>
<polyline points="65.8,231.2 90.45,227.19 100.31,220.82 110.17,221.02 124.96,212.29 134.82,205.39 144.68,193.9 159.47,170.46" fill="none" stroke="#36174f" stroke-width="1.9" stroke-linejoin="round"/>
<path d="M110.17 220.04V222.01M108.57 220.04H111.77M108.57 222.01H111.77" stroke="#36174f" stroke-width="1.1" fill="none"/>
<path d="M124.96 211.3V213.27M123.36 211.3H126.56M123.36 213.27H126.56" stroke="#36174f" stroke-width="1.1" fill="none"/>
<path d="M134.82 203.42V207.36M133.22 203.42H136.42M133.22 207.36H136.42" stroke="#36174f" stroke-width="1.1" fill="none"/>
<path d="M144.68 191.27V196.53M143.08 191.27H146.28M143.08 196.53H146.28" stroke="#36174f" stroke-width="1.1" fill="none"/>
<path d="M159.47 164.42V176.5M157.87 164.42H161.07M157.87 176.5H161.07" stroke="#36174f" stroke-width="1.1" fill="none"/>
<rect x="88.75" y="225.49" width="3.4" height="3.4" fill="#48266a"/>
<rect x="98.61" y="219.12" width="3.4" height="3.4" fill="#48266a"/>
<rect x="108.47" y="219.32" width="3.4" height="3.4" fill="#48266a"/>
<rect x="123.26" y="210.59" width="3.4" height="3.4" fill="#48266a"/>
<rect x="133.12" y="203.69" width="3.4" height="3.4" fill="#48266a"/>
<rect x="142.98" y="192.2" width="3.4" height="3.4" fill="#48266a"/>
<rect x="157.77" y="168.76" width="3.4" height="3.4" fill="#48266a"/>
<path d="M281.6 129.5V231H432" stroke="#151515" stroke-width="1.4" fill="none"/>
<path d="M277.6 231H281.6" stroke="#151515" stroke-width="1.2"/>
<text x="274.3" y="233.9" font-size="8.3" text-anchor="end" font-weight="normal" fill="#383838">0</text>
<path d="M277.6 198.17H281.6" stroke="#151515" stroke-width="1.2"/>
<text x="274.3" y="201.07" font-size="8.3" text-anchor="end" font-weight="normal" fill="#383838">500</text>
<path d="M277.6 165.33H281.6" stroke="#151515" stroke-width="1.2"/>
<text x="274.3" y="168.23" font-size="8.3" text-anchor="end" font-weight="normal" fill="#383838">1000</text>
<path d="M277.6 132.5H281.6" stroke="#151515" stroke-width="1.2"/>
<text x="274.3" y="135.4" font-size="8.3" text-anchor="end" font-weight="normal" fill="#383838">1500</text>
<path d="M281.6 231V234.5" stroke="#151515" stroke-width="1"/>
<text x="281.6" y="244.7" font-size="8.3" text-anchor="middle" font-weight="normal" fill="#383838">0</text>
<path d="M330.9 231V234.5" stroke="#151515" stroke-width="1"/>
<text x="330.9" y="244.7" font-size="8.3" text-anchor="middle" font-weight="normal" fill="#383838">10</text>
<path d="M380.2 231V234.5" stroke="#151515" stroke-width="1"/>
<text x="380.2" y="244.7" font-size="8.3" text-anchor="middle" font-weight="normal" fill="#383838">20</text>
<path d="M429.5 231V234.5" stroke="#151515" stroke-width="1"/>
<text x="429.5" y="244.7" font-size="8.3" text-anchor="middle" font-weight="normal" fill="#383838">30</text>
<text x="357" y="259.6" font-size="10" text-anchor="middle" font-weight="normal" fill="#1a1a1a" textLength="82.3" lengthAdjust="spacingAndGlyphs" stroke="#1a1a1a" stroke-width="0.3">Days after tumor injection</text>
<text transform="translate(247.7 180.5) rotate(-90)" font-size="9.8" text-anchor="middle" fill="#1a1a1a" stroke="#1a1a1a" stroke-width="0.3" textLength="58" lengthAdjust="spacingAndGlyphs">Tumor size (mm<tspan font-size="6" dy="-3.6">3</tspan><tspan dy="3.6">)</tspan></text>
<polyline points="281.6,231 306.25,225.09 316.11,221.28 325.97,218.19 340.76,218.79 350.62,218.52 360.48,220.36 375.27,220.82 385.13,218.79 394.99,215.37 409.78,206.31 419.64,193.57" fill="none" stroke="#27487a" stroke-width="1.9" stroke-linejoin="round"/>
<path d="M350.62 215.9V221.15M349.02 215.9H352.22M349.02 221.15H352.22" stroke="#27487a" stroke-width="1.1" fill="none"/>
<path d="M360.48 217.41V223.32M358.88 217.41H362.08M358.88 223.32H362.08" stroke="#27487a" stroke-width="1.1" fill="none"/>
<path d="M375.27 217.54V224.1M373.67 217.54H376.87M373.67 224.1H376.87" stroke="#27487a" stroke-width="1.1" fill="none"/>
<path d="M385.13 215.5V222.07M383.53 215.5H386.73M383.53 222.07H386.73" stroke="#27487a" stroke-width="1.1" fill="none"/>
<path d="M394.99 210.12V220.62M393.39 210.12H396.59M393.39 220.62H396.59" stroke="#27487a" stroke-width="1.1" fill="none"/>
<path d="M409.78 193.18V219.44M408.18 193.18H411.38M408.18 219.44H411.38" stroke="#27487a" stroke-width="1.1" fill="none"/>
<path d="M419.64 178.66V208.48M418.04 178.66H421.24M418.04 208.48H421.24" stroke="#27487a" stroke-width="1.1" fill="none"/>
<circle cx="306.25" cy="225.09" r="1.7" fill="#2f5a8e"/>
<circle cx="316.11" cy="221.28" r="1.7" fill="#2f5a8e"/>
<circle cx="325.97" cy="218.19" r="1.7" fill="#2f5a8e"/>
<circle cx="340.76" cy="218.79" r="1.7" fill="#2f5a8e"/>
<circle cx="350.62" cy="218.52" r="1.7" fill="#2f5a8e"/>
<circle cx="360.48" cy="220.36" r="1.7" fill="#2f5a8e"/>
<circle cx="375.27" cy="220.82" r="1.7" fill="#2f5a8e"/>
<circle cx="385.13" cy="218.79" r="1.7" fill="#2f5a8e"/>
<circle cx="394.99" cy="215.37" r="1.7" fill="#2f5a8e"/>
<circle cx="409.78" cy="206.31" r="1.7" fill="#2f5a8e"/>
<circle cx="419.64" cy="193.57" r="1.7" fill="#2f5a8e"/>
<polyline points="281.6,231 306.25,227.39 316.11,225.02 325.97,220.82 340.76,219.38 350.62,222.4 360.48,223.58 375.27,222.99 385.13,218.79 394.99,215.37 409.78,203.42" fill="none" stroke="#9c1139" stroke-width="1.9" stroke-linejoin="round"/>
<path d="M350.62 218.79V226.01M349.02 218.79H352.22M349.02 226.01H352.22" stroke="#9c1139" stroke-width="1.1" fill="none"/>
<path d="M360.48 219.64V227.52M358.88 219.64H362.08M358.88 227.52H362.08" stroke="#9c1139" stroke-width="1.1" fill="none"/>
<path d="M375.27 218.39V227.59M373.67 218.39H376.87M373.67 227.59H376.87" stroke="#9c1139" stroke-width="1.1" fill="none"/>
<path d="M385.13 212.88V224.7M383.53 212.88H386.73M383.53 224.7H386.73" stroke="#9c1139" stroke-width="1.1" fill="none"/>
<path d="M394.99 207.82V222.92M393.39 207.82H396.59M393.39 222.92H396.59" stroke="#9c1139" stroke-width="1.1" fill="none"/>
<path d="M409.78 189.43V217.41M408.18 189.43H411.38M408.18 217.41H411.38" stroke="#9c1139" stroke-width="1.1" fill="none"/>
<polygon points="306.25,225.29 304.25,229.09 308.25,229.09" fill="#a8173f"/>
<polygon points="316.11,222.92 314.11,226.72 318.11,226.72" fill="#a8173f"/>
<polygon points="325.97,218.72 323.97,222.52 327.97,222.52" fill="#a8173f"/>
<polygon points="340.76,217.28 338.76,221.08 342.76,221.08" fill="#a8173f"/>
<polygon points="350.62,220.3 348.62,224.1 352.62,224.1" fill="#a8173f"/>
<polygon points="360.48,221.48 358.48,225.28 362.48,225.28" fill="#a8173f"/>
<polygon points="375.27,220.89 373.27,224.69 377.27,224.69" fill="#a8173f"/>
<polygon points="385.13,216.69 383.13,220.49 387.13,220.49" fill="#a8173f"/>
<polygon points="394.99,213.27 392.99,217.07 396.99,217.07" fill="#a8173f"/>
<polygon points="409.78,201.32 407.78,205.12 411.78,205.12" fill="#a8173f"/>
<polyline points="281.6,231 306.25,224.89 316.11,219.84 325.97,216.42 340.76,204.47 350.62,195.21 360.48,183.26 375.27,158.7" fill="none" stroke="#36174f" stroke-width="1.9" stroke-linejoin="round"/>
<path d="M340.76 203.16V205.78M339.16 203.16H342.36M339.16 205.78H342.36" stroke="#36174f" stroke-width="1.1" fill="none"/>
<path d="M350.62 190.94V199.48M349.02 190.94H352.22M349.02 199.48H352.22" stroke="#36174f" stroke-width="1.1" fill="none"/>
<path d="M360.48 178.53V187.99M358.88 178.53H362.08M358.88 187.99H362.08" stroke="#36174f" stroke-width="1.1" fill="none"/>
<path d="M375.27 150.49V166.91M373.67 150.49H376.87M373.67 166.91H376.87" stroke="#36174f" stroke-width="1.1" fill="none"/>
<rect x="304.55" y="223.19" width="3.4" height="3.4" fill="#48266a"/>
<rect x="314.41" y="218.14" width="3.4" height="3.4" fill="#48266a"/>
<rect x="324.27" y="214.72" width="3.4" height="3.4" fill="#48266a"/>
<rect x="339.06" y="202.77" width="3.4" height="3.4" fill="#48266a"/>
<rect x="348.92" y="193.51" width="3.4" height="3.4" fill="#48266a"/>
<rect x="358.78" y="181.56" width="3.4" height="3.4" fill="#48266a"/>
<rect x="373.57" y="157" width="3.4" height="3.4" fill="#48266a"/>
<path d="M429.2 167H449.2" stroke="#36174f" stroke-width="1.8"/>
<rect x="437.5" y="165.3" width="3.4" height="3.4" fill="#48266a"/>
<text x="452.4" y="170" font-size="8.3" text-anchor="start" font-weight="normal" fill="#2a2a2a" textLength="21" lengthAdjust="spacingAndGlyphs">Saline</text>
<path d="M429.2 179.8H449.2" stroke="#9c1139" stroke-width="1.8"/>
<polygon points="439.2,177.7 437.2,181.5 441.2,181.5" fill="#a8173f"/>
<text x="452.4" y="182.8" font-size="8.3" text-anchor="start" font-weight="normal" fill="#2a2a2a" textLength="39.4" lengthAdjust="spacingAndGlyphs">3 Injections</text>
<path d="M429.2 192.8H449.2" stroke="#27487a" stroke-width="1.8"/>
<circle cx="439.2" cy="192.8" r="1.7" fill="#2f5a8e"/>
<text x="452.4" y="195.8" font-size="8.3" text-anchor="start" font-weight="normal" fill="#2a2a2a" textLength="39.4" lengthAdjust="spacingAndGlyphs">9 Injections</text>
<text x="140.75" y="396.5" font-size="10.4" text-anchor="middle" font-weight="bold" fill="#000">Tumor 1</text>
<text x="356.25" y="395.9" font-size="10.4" text-anchor="middle" font-weight="bold" fill="#000">Survival proportions</text>
<text x="140.5" y="564.3" font-size="10.4" text-anchor="middle" font-weight="bold" fill="#000">Tumor 2</text>
<text x="356.3" y="564.3" font-size="10.4" text-anchor="middle" font-weight="bold" fill="#000">Tumor 3</text>
<path d="M65.8 407.5V509H216.2" stroke="#151515" stroke-width="1.4" fill="none"/>
<path d="M61.8 509H65.8" stroke="#151515" stroke-width="1.2"/>
<text x="58.5" y="511.9" font-size="8.3" text-anchor="end" font-weight="normal" fill="#383838">0</text>
<path d="M61.8 476.17H65.8" stroke="#151515" stroke-width="1.2"/>
<text x="58.5" y="479.07" font-size="8.3" text-anchor="end" font-weight="normal" fill="#383838">500</text>
<path d="M61.8 443.33H65.8" stroke="#151515" stroke-width="1.2"/>
<text x="58.5" y="446.23" font-size="8.3" text-anchor="end" font-weight="normal" fill="#383838">1000</text>
<path d="M61.8 410.5H65.8" stroke="#151515" stroke-width="1.2"/>
<text x="58.5" y="413.4" font-size="8.3" text-anchor="end" font-weight="normal" fill="#383838">1500</text>
<path d="M65.8 509V512.5" stroke="#151515" stroke-width="1"/>
<text x="65.8" y="522.7" font-size="8.3" text-anchor="middle" font-weight="normal" fill="#383838">0</text>
<path d="M115.1 509V512.5" stroke="#151515" stroke-width="1"/>
<text x="115.1" y="522.7" font-size="8.3" text-anchor="middle" font-weight="normal" fill="#383838">10</text>
<path d="M164.4 509V512.5" stroke="#151515" stroke-width="1"/>
<text x="164.4" y="522.7" font-size="8.3" text-anchor="middle" font-weight="normal" fill="#383838">20</text>
<path d="M213.7 509V512.5" stroke="#151515" stroke-width="1"/>
<text x="213.7" y="522.7" font-size="8.3" text-anchor="middle" font-weight="normal" fill="#383838">30</text>
<text x="141.2" y="537.6" font-size="10" text-anchor="middle" font-weight="normal" fill="#1a1a1a" textLength="82.3" lengthAdjust="spacingAndGlyphs" stroke="#1a1a1a" stroke-width="0.3">Days after tumor injection</text>
<text transform="translate(31.9 458.5) rotate(-90)" font-size="9.8" text-anchor="middle" fill="#1a1a1a" stroke="#1a1a1a" stroke-width="0.3" textLength="58" lengthAdjust="spacingAndGlyphs">Tumor size (mm<tspan font-size="6" dy="-3.6">3</tspan><tspan dy="3.6">)</tspan></text>
<polyline points="65.8,509 95.38,504.47 110.17,504.47 120.03,505.32 129.89,505.98 144.68,508.67 154.54,509 164.4,509 179.19,509" fill="none" stroke="#9c1139" stroke-width="1.9" stroke-linejoin="round"/>
<polygon points="95.38,502.37 93.38,506.17 97.38,506.17" fill="#a8173f"/>
<polygon points="110.17,502.37 108.17,506.17 112.17,506.17" fill="#a8173f"/>
<polygon points="120.03,503.22 118.03,507.02 122.03,507.02" fill="#a8173f"/>
<polygon points="129.89,503.88 127.89,507.68 131.89,507.68" fill="#a8173f"/>
<polygon points="144.68,506.57 142.68,510.37 146.68,510.37" fill="#a8173f"/>
<polygon points="154.54,506.9 152.54,510.7 156.54,510.7" fill="#a8173f"/>
<polygon points="164.4,506.9 162.4,510.7 166.4,510.7" fill="#a8173f"/>
<polygon points="179.19,506.9 177.19,510.7 181.19,510.7" fill="#a8173f"/>
<polyline points="65.8,509 95.38,503.48 110.17,503.02 120.03,502.17 129.89,504.47 144.68,508.67 154.54,508.28 164.4,507.29 179.19,508.01 198.91,505.91 213.7,503.29" fill="none" stroke="#6d9fd0" stroke-width="1.9" stroke-linejoin="round"/>
<path d="M120.03 500.53V503.81M118.43 500.53H121.63M118.43 503.81H121.63" stroke="#6d9fd0" stroke-width="1.1" fill="none"/>
<path d="M198.91 504.6V507.23M197.31 504.6H200.51M197.31 507.23H200.51" stroke="#6d9fd0" stroke-width="1.1" fill="none"/>
<path d="M213.7 499.35V507.23M212.1 499.35H215.3M212.1 507.23H215.3" stroke="#6d9fd0" stroke-width="1.1" fill="none"/>
<circle cx="95.38" cy="503.48" r="1.7" fill="#7aa9d6"/>
<circle cx="110.17" cy="503.02" r="1.7" fill="#7aa9d6"/>
<circle cx="120.03" cy="502.17" r="1.7" fill="#7aa9d6"/>
<circle cx="129.89" cy="504.47" r="1.7" fill="#7aa9d6"/>
<circle cx="144.68" cy="508.67" r="1.7" fill="#7aa9d6"/>
<circle cx="154.54" cy="508.28" r="1.7" fill="#7aa9d6"/>
<circle cx="164.4" cy="507.29" r="1.7" fill="#7aa9d6"/>
<circle cx="179.19" cy="508.01" r="1.7" fill="#7aa9d6"/>
<circle cx="198.91" cy="505.91" r="1.7" fill="#7aa9d6"/>
<circle cx="213.7" cy="503.29" r="1.7" fill="#7aa9d6"/>
<polyline points="65.8,509 95.38,503.29 110.17,498.03 120.03,493.7 129.89,486.48 144.68,462.9 154.54,441.82" fill="none" stroke="#36174f" stroke-width="1.9" stroke-linejoin="round"/>
<path d="M129.89 485.49V487.46M128.29 485.49H131.49M128.29 487.46H131.49" stroke="#36174f" stroke-width="1.1" fill="none"/>
<path d="M144.68 458.96V466.84M143.08 458.96H146.28M143.08 466.84H146.28" stroke="#36174f" stroke-width="1.1" fill="none"/>
<path d="M154.54 437.55V446.09M152.94 437.55H156.14M152.94 446.09H156.14" stroke="#36174f" stroke-width="1.1" fill="none"/>
<rect x="93.68" y="501.59" width="3.4" height="3.4" fill="#48266a"/>
<rect x="108.47" y="496.33" width="3.4" height="3.4" fill="#48266a"/>
<rect x="118.33" y="492" width="3.4" height="3.4" fill="#48266a"/>
<rect x="128.19" y="484.78" width="3.4" height="3.4" fill="#48266a"/>
<rect x="142.98" y="461.2" width="3.4" height="3.4" fill="#48266a"/>
<rect x="152.84" y="440.12" width="3.4" height="3.4" fill="#48266a"/>
<path d="M65.6 569.5V671H216" stroke="#151515" stroke-width="1.4" fill="none"/>
<path d="M61.6 671H65.6" stroke="#151515" stroke-width="1.2"/>
<text x="58.3" y="673.9" font-size="8.3" text-anchor="end" font-weight="normal" fill="#383838">0</text>
<path d="M61.6 638.17H65.6" stroke="#151515" stroke-width="1.2"/>
<text x="58.3" y="641.07" font-size="8.3" text-anchor="end" font-weight="normal" fill="#383838">500</text>
<path d="M61.6 605.33H65.6" stroke="#151515" stroke-width="1.2"/>
<text x="58.3" y="608.23" font-size="8.3" text-anchor="end" font-weight="normal" fill="#383838">1000</text>
<path d="M61.6 572.5H65.6" stroke="#151515" stroke-width="1.2"/>
<text x="58.3" y="575.4" font-size="8.3" text-anchor="end" font-weight="normal" fill="#383838">1500</text>
<path d="M65.6 671V674.5" stroke="#151515" stroke-width="1"/>
<text x="65.6" y="684.7" font-size="8.3" text-anchor="middle" font-weight="normal" fill="#383838">0</text>
<path d="M114.9 671V674.5" stroke="#151515" stroke-width="1"/>
<text x="114.9" y="684.7" font-size="8.3" text-anchor="middle" font-weight="normal" fill="#383838">10</text>
<path d="M164.2 671V674.5" stroke="#151515" stroke-width="1"/>
<text x="164.2" y="684.7" font-size="8.3" text-anchor="middle" font-weight="normal" fill="#383838">20</text>
<path d="M213.5 671V674.5" stroke="#151515" stroke-width="1"/>
<text x="213.5" y="684.7" font-size="8.3" text-anchor="middle" font-weight="normal" fill="#383838">30</text>
<text x="141" y="699.6" font-size="10" text-anchor="middle" font-weight="normal" fill="#1a1a1a" textLength="82.3" lengthAdjust="spacingAndGlyphs" stroke="#1a1a1a" stroke-width="0.3">Days after tumor injection</text>
<text transform="translate(31.7 620.5) rotate(-90)" font-size="9.8" text-anchor="middle" fill="#1a1a1a" stroke="#1a1a1a" stroke-width="0.3" textLength="58" lengthAdjust="spacingAndGlyphs">Tumor size (mm<tspan font-size="6" dy="-3.6">3</tspan><tspan dy="3.6">)</tspan></text>
<polyline points="65.6,671 95.18,664.63 109.97,662.07 119.83,660.23 129.69,660.82 144.48,662.07 154.34,664.63 164.2,666.47 178.99,667.32 188.85,666.27 198.71,665.02 213.5,658.33" fill="none" stroke="#6d9fd0" stroke-width="1.9" stroke-linejoin="round"/>
<path d="M188.85 663.45V669.1M187.25 663.45H190.45M187.25 669.1H190.45" stroke="#6d9fd0" stroke-width="1.1" fill="none"/>
<path d="M198.71 659.97V670.08M197.11 659.97H200.31M197.11 670.08H200.31" stroke="#6d9fd0" stroke-width="1.1" fill="none"/>
<path d="M213.5 645.46V671.2M211.9 645.46H215.1M211.9 671.2H215.1" stroke="#6d9fd0" stroke-width="1.1" fill="none"/>
<circle cx="95.18" cy="664.63" r="1.7" fill="#7aa9d6"/>
<circle cx="109.97" cy="662.07" r="1.7" fill="#7aa9d6"/>
<circle cx="119.83" cy="660.23" r="1.7" fill="#7aa9d6"/>
<circle cx="129.69" cy="660.82" r="1.7" fill="#7aa9d6"/>
<circle cx="144.48" cy="662.07" r="1.7" fill="#7aa9d6"/>
<circle cx="154.34" cy="664.63" r="1.7" fill="#7aa9d6"/>
<circle cx="164.2" cy="666.47" r="1.7" fill="#7aa9d6"/>
<circle cx="178.99" cy="667.32" r="1.7" fill="#7aa9d6"/>
<circle cx="188.85" cy="666.27" r="1.7" fill="#7aa9d6"/>
<circle cx="198.71" cy="665.02" r="1.7" fill="#7aa9d6"/>
<circle cx="213.5" cy="658.33" r="1.7" fill="#7aa9d6"/>
<polyline points="65.6,671 95.18,666.47 109.97,663.97 119.83,657.47 129.69,656.88 144.48,657.28 154.34,652.88 164.2,646.31 178.99,631.01" fill="none" stroke="#9c1139" stroke-width="1.9" stroke-linejoin="round"/>
<path d="M154.34 651.56V654.19M152.74 651.56H155.94M152.74 654.19H155.94" stroke="#9c1139" stroke-width="1.1" fill="none"/>
<path d="M164.2 643.68V648.94M162.6 643.68H165.8M162.6 648.94H165.8" stroke="#9c1139" stroke-width="1.1" fill="none"/>
<path d="M178.99 623.13V638.89M177.39 623.13H180.59M177.39 638.89H180.59" stroke="#9c1139" stroke-width="1.1" fill="none"/>
<polygon points="95.18,664.37 93.18,668.17 97.18,668.17" fill="#a8173f"/>
<polygon points="109.97,661.87 107.97,665.67 111.97,665.67" fill="#a8173f"/>
<polygon points="119.83,655.37 117.83,659.17 121.83,659.17" fill="#a8173f"/>
<polygon points="129.69,654.78 127.69,658.58 131.69,658.58" fill="#a8173f"/>
<polygon points="144.48,655.18 142.48,658.98 146.48,658.98" fill="#a8173f"/>
<polygon points="154.34,650.78 152.34,654.58 156.34,654.58" fill="#a8173f"/>
<polygon points="164.2,644.21 162.2,648.01 166.2,648.01" fill="#a8173f"/>
<polygon points="178.99,628.91 176.99,632.71 180.99,632.71" fill="#a8173f"/>
<polyline points="65.6,671 95.18,666.01 109.97,662.99 119.83,657.67 129.69,652.09 144.48,643.49 154.34,633.7" fill="none" stroke="#36174f" stroke-width="1.9" stroke-linejoin="round"/>
<path d="M129.69 649V655.17M128.09 649H131.29M128.09 655.17H131.29" stroke="#36174f" stroke-width="1.1" fill="none"/>
<path d="M144.48 638.1V648.87M142.88 638.1H146.08M142.88 648.87H146.08" stroke="#36174f" stroke-width="1.1" fill="none"/>
<path d="M154.34 627.99V639.41M152.74 627.99H155.94M152.74 639.41H155.94" stroke="#36174f" stroke-width="1.1" fill="none"/>
<rect x="93.48" y="664.31" width="3.4" height="3.4" fill="#48266a"/>
<rect x="108.27" y="661.29" width="3.4" height="3.4" fill="#48266a"/>
<rect x="118.13" y="655.97" width="3.4" height="3.4" fill="#48266a"/>
<rect x="127.99" y="650.39" width="3.4" height="3.4" fill="#48266a"/>
<rect x="142.78" y="641.79" width="3.4" height="3.4" fill="#48266a"/>
<rect x="152.64" y="632" width="3.4" height="3.4" fill="#48266a"/>
<path d="M281.4 569.4V670.9H431.8" stroke="#151515" stroke-width="1.4" fill="none"/>
<path d="M277.4 670.9H281.4" stroke="#151515" stroke-width="1.2"/>
<text x="274.1" y="673.8" font-size="8.3" text-anchor="end" font-weight="normal" fill="#383838">0</text>
<path d="M277.4 638.07H281.4" stroke="#151515" stroke-width="1.2"/>
<text x="274.1" y="640.97" font-size="8.3" text-anchor="end" font-weight="normal" fill="#383838">500</text>
<path d="M277.4 605.23H281.4" stroke="#151515" stroke-width="1.2"/>
<text x="274.1" y="608.13" font-size="8.3" text-anchor="end" font-weight="normal" fill="#383838">1000</text>
<path d="M277.4 572.4H281.4" stroke="#151515" stroke-width="1.2"/>
<text x="274.1" y="575.3" font-size="8.3" text-anchor="end" font-weight="normal" fill="#383838">1500</text>
<path d="M281.4 670.9V674.4" stroke="#151515" stroke-width="1"/>
<text x="281.4" y="684.6" font-size="8.3" text-anchor="middle" font-weight="normal" fill="#383838">0</text>
<path d="M330.7 670.9V674.4" stroke="#151515" stroke-width="1"/>
<text x="330.7" y="684.6" font-size="8.3" text-anchor="middle" font-weight="normal" fill="#383838">10</text>
<path d="M380 670.9V674.4" stroke="#151515" stroke-width="1"/>
<text x="380" y="684.6" font-size="8.3" text-anchor="middle" font-weight="normal" fill="#383838">20</text>
<path d="M429.3 670.9V674.4" stroke="#151515" stroke-width="1"/>
<text x="429.3" y="684.6" font-size="8.3" text-anchor="middle" font-weight="normal" fill="#383838">30</text>
<text x="356.8" y="699.5" font-size="10" text-anchor="middle" font-weight="normal" fill="#1a1a1a" textLength="82.3" lengthAdjust="spacingAndGlyphs" stroke="#1a1a1a" stroke-width="0.3">Days after tumor injection</text>
<text transform="translate(247.5 620.4) rotate(-90)" font-size="9.8" text-anchor="middle" fill="#1a1a1a" stroke="#1a1a1a" stroke-width="0.3" textLength="58" lengthAdjust="spacingAndGlyphs">Tumor size (mm<tspan font-size="6" dy="-3.6">3</tspan><tspan dy="3.6">)</tspan></text>
<polyline points="281.4,670.9 310.98,664.6 325.77,661.51 335.63,658.49 345.49,660 360.28,661.51 370.14,660 380,655.4 394.79,650.81 404.65,646.21 414.51,638.53 429.3,611.6" fill="none" stroke="#6d9fd0" stroke-width="1.9" stroke-linejoin="round"/>
<path d="M370.14 657.37V662.63M368.54 657.37H371.74M368.54 662.63H371.74" stroke="#6d9fd0" stroke-width="1.1" fill="none"/>
<path d="M380 650.81V660M378.4 650.81H381.6M378.4 660H381.6" stroke="#6d9fd0" stroke-width="1.1" fill="none"/>
<path d="M394.79 644.9V656.72M393.19 644.9H396.39M393.19 656.72H396.39" stroke="#6d9fd0" stroke-width="1.1" fill="none"/>
<path d="M404.65 638.99V653.43M403.05 638.99H406.25M403.05 653.43H406.25" stroke="#6d9fd0" stroke-width="1.1" fill="none"/>
<path d="M414.51 629.66V647.39M412.91 629.66H416.11M412.91 647.39H416.11" stroke="#6d9fd0" stroke-width="1.1" fill="none"/>
<path d="M429.3 594.53V628.68M427.7 594.53H430.9M427.7 628.68H430.9" stroke="#6d9fd0" stroke-width="1.1" fill="none"/>
<circle cx="310.98" cy="664.6" r="1.7" fill="#7aa9d6"/>
<circle cx="325.77" cy="661.51" r="1.7" fill="#7aa9d6"/>
<circle cx="335.63" cy="658.49" r="1.7" fill="#7aa9d6"/>
<circle cx="345.49" cy="660" r="1.7" fill="#7aa9d6"/>
<circle cx="360.28" cy="661.51" r="1.7" fill="#7aa9d6"/>
<circle cx="370.14" cy="660" r="1.7" fill="#7aa9d6"/>
<circle cx="380" cy="655.4" r="1.7" fill="#7aa9d6"/>
<circle cx="394.79" cy="650.81" r="1.7" fill="#7aa9d6"/>
<circle cx="404.65" cy="646.21" r="1.7" fill="#7aa9d6"/>
<circle cx="414.51" cy="638.53" r="1.7" fill="#7aa9d6"/>
<circle cx="429.3" cy="611.6" r="1.7" fill="#7aa9d6"/>
<polyline points="281.4,670.9 310.98,665.98 325.77,663.02 335.63,656.32 345.49,654.81 360.28,655.4 370.14,647.72 380,636.29 394.79,616" fill="none" stroke="#9c1139" stroke-width="1.9" stroke-linejoin="round"/>
<path d="M370.14 645.42V650.02M368.54 645.42H371.74M368.54 650.02H371.74" stroke="#9c1139" stroke-width="1.1" fill="none"/>
<path d="M380 626.77V645.82M378.4 626.77H381.6M378.4 645.82H381.6" stroke="#9c1139" stroke-width="1.1" fill="none"/>
<path d="M394.79 603.07V628.94M393.19 603.07H396.39M393.19 628.94H396.39" stroke="#9c1139" stroke-width="1.1" fill="none"/>
<polygon points="310.98,663.88 308.98,667.68 312.98,667.68" fill="#a8173f"/>
<polygon points="325.77,660.92 323.77,664.72 327.77,664.72" fill="#a8173f"/>
<polygon points="335.63,654.22 333.63,658.02 337.63,658.02" fill="#a8173f"/>
<polygon points="345.49,652.71 343.49,656.51 347.49,656.51" fill="#a8173f"/>
<polygon points="360.28,653.3 358.28,657.1 362.28,657.1" fill="#a8173f"/>
<polygon points="370.14,645.62 368.14,649.42 372.14,649.42" fill="#a8173f"/>
<polygon points="380,634.19 378,637.99 382,637.99" fill="#a8173f"/>
<polygon points="394.79,613.9 392.79,617.7 396.79,617.7" fill="#a8173f"/>
<polyline points="281.4,670.9 310.98,666.17 325.77,663.68 335.63,656.91 345.49,654.81 360.28,647.72 370.14,627.43" fill="none" stroke="#36174f" stroke-width="1.9" stroke-linejoin="round"/>
<path d="M360.28 646.08V649.36M358.68 646.08H361.88M358.68 649.36H361.88" stroke="#36174f" stroke-width="1.1" fill="none"/>
<path d="M370.14 622.5V632.35M368.54 622.5H371.74M368.54 632.35H371.74" stroke="#36174f" stroke-width="1.1" fill="none"/>
<rect x="309.28" y="664.47" width="3.4" height="3.4" fill="#48266a"/>
<rect x="324.07" y="661.98" width="3.4" height="3.4" fill="#48266a"/>
<rect x="333.93" y="655.21" width="3.4" height="3.4" fill="#48266a"/>
<rect x="343.79" y="653.11" width="3.4" height="3.4" fill="#48266a"/>
<rect x="358.58" y="646.02" width="3.4" height="3.4" fill="#48266a"/>
<rect x="368.44" y="625.73" width="3.4" height="3.4" fill="#48266a"/>
<text x="394.6" y="602.5" font-size="8" text-anchor="middle" font-weight="normal" fill="#9c1139">*</text>
<path d="M280.3 408.6V509H431.9" stroke="#151515" stroke-width="1.4" fill="none"/>
<path d="M276.3 509H280.3" stroke="#151515" stroke-width="1.2"/>
<text x="273.8" y="511.9" font-size="8.3" text-anchor="end" font-weight="normal" fill="#383838">0</text>
<path d="M276.3 489.32H280.3" stroke="#151515" stroke-width="1.2"/>
<text x="273.8" y="492.22" font-size="8.3" text-anchor="end" font-weight="normal" fill="#383838">20</text>
<path d="M276.3 469.64H280.3" stroke="#151515" stroke-width="1.2"/>
<text x="273.8" y="472.54" font-size="8.3" text-anchor="end" font-weight="normal" fill="#383838">40</text>
<path d="M276.3 449.96H280.3" stroke="#151515" stroke-width="1.2"/>
<text x="273.8" y="452.86" font-size="8.3" text-anchor="end" font-weight="normal" fill="#383838">60</text>
<path d="M276.3 430.28H280.3" stroke="#151515" stroke-width="1.2"/>
<text x="273.8" y="433.18" font-size="8.3" text-anchor="end" font-weight="normal" fill="#383838">80</text>
<path d="M276.3 410.6H280.3" stroke="#151515" stroke-width="1.2"/>
<text x="273.8" y="413.5" font-size="8.3" text-anchor="end" font-weight="normal" fill="#383838">100</text>
<path d="M280.3 509V512.5" stroke="#151515" stroke-width="1"/>
<text x="280.3" y="522.7" font-size="8.3" text-anchor="middle" font-weight="normal" fill="#383838">0</text>
<path d="M304.9 509V512.5" stroke="#151515" stroke-width="1"/>
<text x="304.9" y="522.7" font-size="8.3" text-anchor="middle" font-weight="normal" fill="#383838">20</text>
<path d="M329.5 509V512.5" stroke="#151515" stroke-width="1"/>
<text x="329.5" y="522.7" font-size="8.3" text-anchor="middle" font-weight="normal" fill="#383838">40</text>
<path d="M354.1 509V512.5" stroke="#151515" stroke-width="1"/>
<text x="354.1" y="522.7" font-size="8.3" text-anchor="middle" font-weight="normal" fill="#383838">60</text>
<path d="M378.7 509V512.5" stroke="#151515" stroke-width="1"/>
<text x="378.7" y="522.7" font-size="8.3" text-anchor="middle" font-weight="normal" fill="#383838">80</text>
<path d="M403.3 509V512.5" stroke="#151515" stroke-width="1"/>
<text x="403.3" y="522.7" font-size="8.3" text-anchor="middle" font-weight="normal" fill="#383838">100</text>
<path d="M427.9 509V512.5" stroke="#151515" stroke-width="1"/>
<text x="427.9" y="522.7" font-size="8.3" text-anchor="middle" font-weight="normal" fill="#383838">120</text>
<text x="355.8" y="537.8" font-size="10" text-anchor="middle" font-weight="normal" fill="#1a1a1a" textLength="82.3" lengthAdjust="spacingAndGlyphs" stroke="#1a1a1a" stroke-width="0.3">Days after tumor injection</text>
<text transform="translate(249.5 458.2) rotate(-90)" font-size="9.3" text-anchor="middle" fill="#1a1a1a" stroke="#1a1a1a" stroke-width="0.3" textLength="50.8" lengthAdjust="spacingAndGlyphs">Percent survival</text>
<path d="M280.3 410.6H316.71V440.12H326.3V459.8H328.39V489.32H405.76" fill="none" stroke="#6d9fd0" stroke-width="1.6"/>
<circle cx="316.71" cy="440.12" r="2.1" fill="#7aa9d6"/>
<circle cx="326.3" cy="459.8" r="2.1" fill="#7aa9d6"/>
<circle cx="328.39" cy="489.32" r="2.1" fill="#7aa9d6"/>
<circle cx="405.76" cy="489.32" r="1.9" fill="#7aa9d6"/>
<path d="M280.3 410.6H308.96V432.25H311.42V443.07H313.63V476.53H317.2V498.18H319.91V509" fill="none" stroke="#9c1139" stroke-width="1.6"/>
<rect x="306.86" y="430.15" width="4.2" height="4.2" fill="#a8173f"/>
<rect x="309.32" y="440.97" width="4.2" height="4.2" fill="#a8173f"/>
<rect x="311.53" y="474.43" width="4.2" height="4.2" fill="#a8173f"/>
<rect x="315.1" y="496.08" width="4.2" height="4.2" fill="#a8173f"/>
<rect x="317.81" y="506.9" width="4.2" height="4.2" fill="#a8173f"/>
<path d="M280.3 410.6H291.74V440.12H303.06V469.64H305.15V499.16H308.71V509" fill="none" stroke="#36174f" stroke-width="1.6"/>
<rect x="289.64" y="438.02" width="4.2" height="4.2" fill="#48266a"/>
<rect x="300.95" y="467.54" width="4.2" height="4.2" fill="#48266a"/>
<rect x="303.05" y="497.06" width="4.2" height="4.2" fill="#48266a"/>
<rect x="306.61" y="506.9" width="4.2" height="4.2" fill="#48266a"/>
<text x="410.3" y="492.6" font-size="8.6" text-anchor="start" font-weight="normal" fill="#222" stroke="#222" stroke-width="0.3">***</text>
<path d="M429.2 445H449.2" stroke="#36174f" stroke-width="1.8"/>
<rect x="437.5" y="443.3" width="3.4" height="3.4" fill="#48266a"/>
<text x="452.4" y="448" font-size="8.3" text-anchor="start" font-weight="normal" fill="#2a2a2a" textLength="21" lengthAdjust="spacingAndGlyphs">Saline</text>
<path d="M429.2 457.9H449.2" stroke="#9c1139" stroke-width="1.8"/>
<polygon points="439.2,455.8 437.2,459.6 441.2,459.6" fill="#a8173f"/>
<text x="452.4" y="460.9" font-size="8.3" text-anchor="start" font-weight="normal" fill="#2a2a2a" textLength="55.4" lengthAdjust="spacingAndGlyphs">1 Tumor Treated</text>
<path d="M429.2 471.3H449.2" stroke="#6d9fd0" stroke-width="1.8"/>
<circle cx="439.2" cy="471.3" r="1.7" fill="#7aa9d6"/>
<text x="452.4" y="474.3" font-size="8.3" text-anchor="start" font-weight="normal" fill="#2a2a2a" textLength="59.6" lengthAdjust="spacingAndGlyphs">2 Tumors Treated</text>
<rect x="0.75" y="0.75" width="518.5" height="708.5" fill="none" stroke="#000" stroke-width="1.5"/>
</svg></body></html>
